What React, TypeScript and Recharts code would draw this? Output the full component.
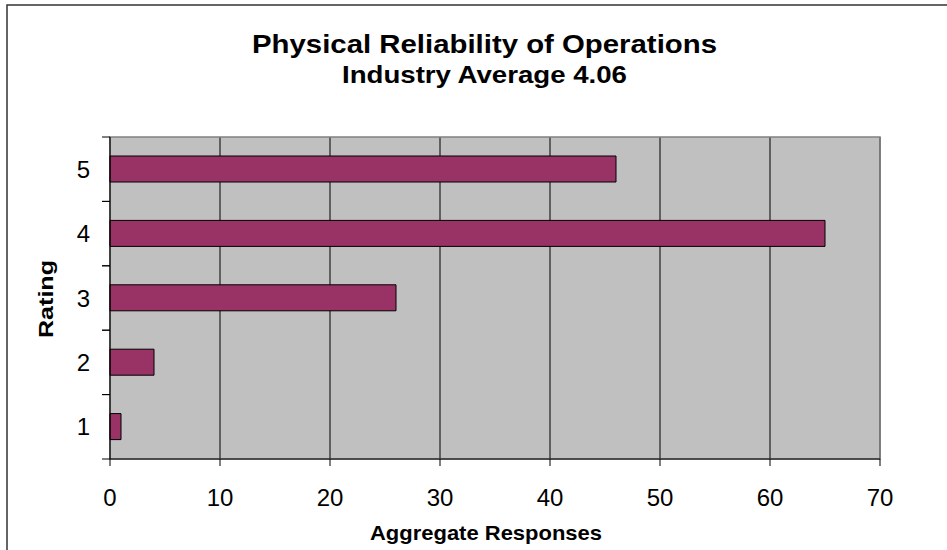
import React from "react";
import { Bar, BarChart, CartesianGrid, Customized, ReferenceArea, XAxis, YAxis } from "recharts";

const ratings = ["5", "4", "3", "2", "1"];
const responses = [46, 65, 26, 4, 1];
const xTicks = [0, 10, 20, 30, 40, 50, 60, 70];

const data = ratings.map((rating, i) => ({ rating, responses: responses[i] }));

const FONT = '"Liberation Sans", Arial, sans-serif';

// y ticks sit between the bands, like Excel's category axis
function RatingTick(props: any) {
  const { x, y, payload } = props;
  const off = payload.offset || 0;
  const ax = x + 20;
  return (
    <g>
      <line x1={ax - 8} x2={ax} y1={y - off} y2={y - off} stroke="#000" />
      <line x1={ax - 8} x2={ax} y1={y + off} y2={y + off} stroke="#000" />
      <text x={x} y={y} dy="0.355em" textAnchor="end" fontSize={24} fontFamily={FONT} fill="#000">
        {payload.value}
      </text>
    </g>
  );
}

function Texts() {
  return (
    <g fontFamily={FONT} fill="#000">
      <rect x={7} y={5} width={1000} height={600} fill="none" stroke="#333" strokeWidth={1.5} />
      <text x={484.5} y={53} textAnchor="middle" fontSize={26} fontWeight="bold" textLength={465} lengthAdjust="spacingAndGlyphs">
        Physical Reliability of Operations
      </text>
      <text x={484.5} y={83} textAnchor="middle" fontSize={23} fontWeight="bold" textLength={285} lengthAdjust="spacingAndGlyphs">
        Industry Average 4.06
      </text>
      <text x={486} y={540} textAnchor="middle" fontSize={21} fontWeight="bold" textLength={232} lengthAdjust="spacingAndGlyphs">
        Aggregate Responses
      </text>
      <text x={53} y={299} transform="rotate(-90, 53, 299)" textAnchor="middle" fontSize={21} fontWeight="bold" textLength={78} lengthAdjust="spacingAndGlyphs">
        Rating
      </text>
    </g>
  );
}

export default function App() {
  return (
    <div style={{ position: "absolute", left: 0, top: 0, width: 947, height: 550, background: "#fff" }}>
      <BarChart
        width={947}
        height={550}
        data={data}
        layout="vertical"
        margin={{ top: 137, right: 67, left: 0, bottom: 0 }}
      >
        <CartesianGrid fill="#C0C0C0" stroke="#000" horizontal={false} />
        <ReferenceArea x1={0} x2={70} fill="none" stroke="#808080" strokeWidth={1.5} />
        <XAxis
          type="number"
          domain={[0, 70]}
          ticks={xTicks}
          interval={0}
          height={91}
          tickSize={7}
          tickMargin={23}
          axisLine={{ stroke: "#000" }}
          tickLine={{ stroke: "#000" }}
          tick={{ fontSize: 24, fill: "#000", fontFamily: FONT }}
        />
        <YAxis
          type="category"
          dataKey="rating"
          width={110}
          tickSize={8}
          tickMargin={12}
          tickLine={false}
          axisLine={{ stroke: "#000" }}
          tick={<RatingTick />}
        />
        <Bar dataKey="responses" fill="#993366" stroke="#000" strokeWidth={1} barSize={26} isAnimationActive={false} />
        <Customized component={Texts} />
      </BarChart>
    </div>
  );
}
